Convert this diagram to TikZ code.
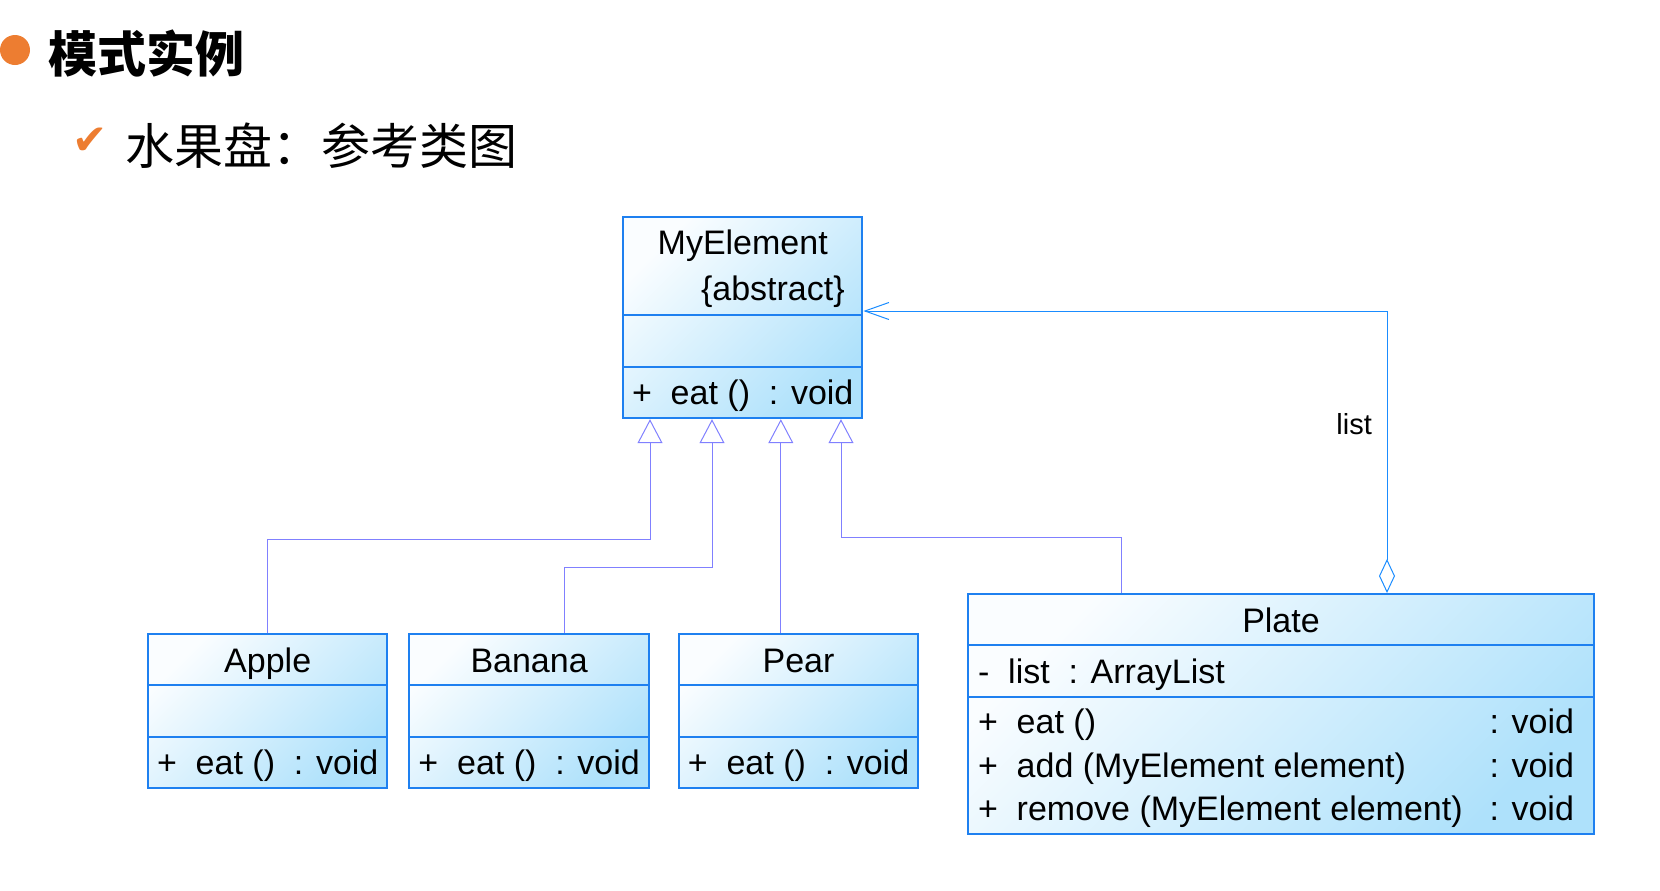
\documentclass[tikz,border=0pt]{standalone}
\usepackage{fontspec}
\setmainfont{Liberation Sans}
\newfontfamily\cjk{Noto Sans CJK SC}
\newfontfamily\dejavu{DejaVu Sans}
\usetikzlibrary{arrows.meta, shapes.multipart, positioning, calc}

\definecolor{accent}{RGB}{237,125,49}
\definecolor{classline}{RGB}{30,128,240}
\definecolor{classtop}{RGB}{250,253,255}
\definecolor{classbottom}{RGB}{174,225,251}
\definecolor{genline}{RGB}{128,128,255}
\definecolor{aggline}{RGB}{26,140,255}

\newcommand{\umlfont}{\fontsize{17pt}{23pt}\selectfont}
\newcommand{\rowstrut}{\rule[-6.2pt]{0pt}{24.7pt}}

\tikzset{
	umlclass/.style = { rectangle split, rectangle split parts = 3, rectangle split part align = {center, left, left}, draw = classline, line width = 1pt, left color = classtop, right color = classbottom, shading angle = 45, inner xsep = 4.5pt, inner ysep = 0pt, minimum width = 118pt, font = \umlfont },
	generalize/.style = { draw = genline, line width = 0.5pt, -{Triangle[open, length = 12pt, width = 12.5pt]} },
	aggregate/.style = { draw = aggline, line width = 0.5pt, {Diamond[open, length = 17pt, width = 8pt]}-{Straight Barb[length = 12pt, width = 8.5pt]} }
}

\begin{document}
\begin{tikzpicture}[x = 0.5pt, y = -0.5pt]
		\useasboundingbox (0,0) rectangle (1660,890);

		% heading
		\node [circle, fill = accent, minimum size = 15pt, inner sep = 0pt] (bullet) at (15,50) {};
		\node [anchor = west, inner sep = 0pt, font = \cjk\bfseries\fontsize{24.5pt}{28pt}\selectfont] (title) at (48,53) {模式实例};
		\node [anchor = west, inner sep = 0pt, text = accent, font = \dejavu\fontsize{21pt}{24pt}\selectfont] (check) at (72,141) {✔};
		\node [anchor = west, inner sep = 0pt, font = \cjk\fontsize{24.5pt}{28pt}\selectfont] (subtitle) at (125,146) {水果盘：参考类图};

		% classes
		\node [umlclass, anchor = north west, minimum width = 119pt] (myelement) at (622,216) {\parbox{110pt}{\centering\rule{0pt}{18pt}MyElement\\\rule[-7.2pt]{0pt}{7.2pt}\hfill\{abstract\}\kern4pt}\nodepart{two}\rowstrut\nodepart{three}\rowstrut+\ \ eat ()\ \ : void};

		\node [umlclass, anchor = north west] (apple) at (147,633) {\rowstrut Apple\nodepart{two}\rowstrut\nodepart{three}\rowstrut+\ \ eat ()\ \ : void};
		\node [umlclass, right = 10pt of apple] (banana) {\rowstrut Banana\nodepart{two}\rowstrut\nodepart{three}\rowstrut+\ \ eat ()\ \ : void};
		\node [umlclass, right = 14pt of banana] (pear) {\rowstrut Pear\nodepart{two}\rowstrut\nodepart{three}\rowstrut+\ \ eat ()\ \ : void};

		\node [umlclass, anchor = north west, minimum width = 313pt, inner xsep = 5pt] (plate) at (967,593) {\rowstrut Plate\nodepart{two}\rowstrut-\ \ list\ \ : ArrayList\nodepart{three}\parbox{303pt}{\fontsize{17pt}{21.7pt}\selectfont
			\rule{0pt}{17.9pt}+\ \ eat ()\hfill: void\kern5pt\\
			+\ \ add (MyElement element)\hfill: void\kern5pt\\
			\rule[-6.4pt]{0pt}{6.4pt}+\ \ remove (MyElement element)\hfill: void\kern5pt}};

		% bends of the inheritance lines
		\coordinate (applebend)  at (0,539);
		\coordinate (bananabend) at (0,567);
		\coordinate (platebend)  at (0,537);
		\coordinate (peartop) at ([xshift = 51.5pt]pear.north west);

		\draw [generalize] (apple.north) -- (apple.north |- applebend) -| ([xshift = 14pt]myelement.south west);
		\draw [generalize] ([xshift = 78pt]banana.north west) -- ([xshift = 78pt]banana.north west |- bananabend) -| ([xshift = 45pt]myelement.south west);
		\draw [generalize] (peartop) -- (peartop |- myelement.south);
		\draw [generalize] ([xshift = 77pt]plate.north west) -- ([xshift = 77pt]plate.north west |- platebend) -| ([xshift = 109.5pt]myelement.south west);

		\draw [aggregate] ([xshift = 210pt]plate.north west) |- ([yshift = -47.5pt]myelement.north east) node [pos = 0.3, left = 4pt, font = \fontsize{14.5pt}{17pt}\selectfont] (listlabel) {list};
	\end{tikzpicture}
\end{document}
